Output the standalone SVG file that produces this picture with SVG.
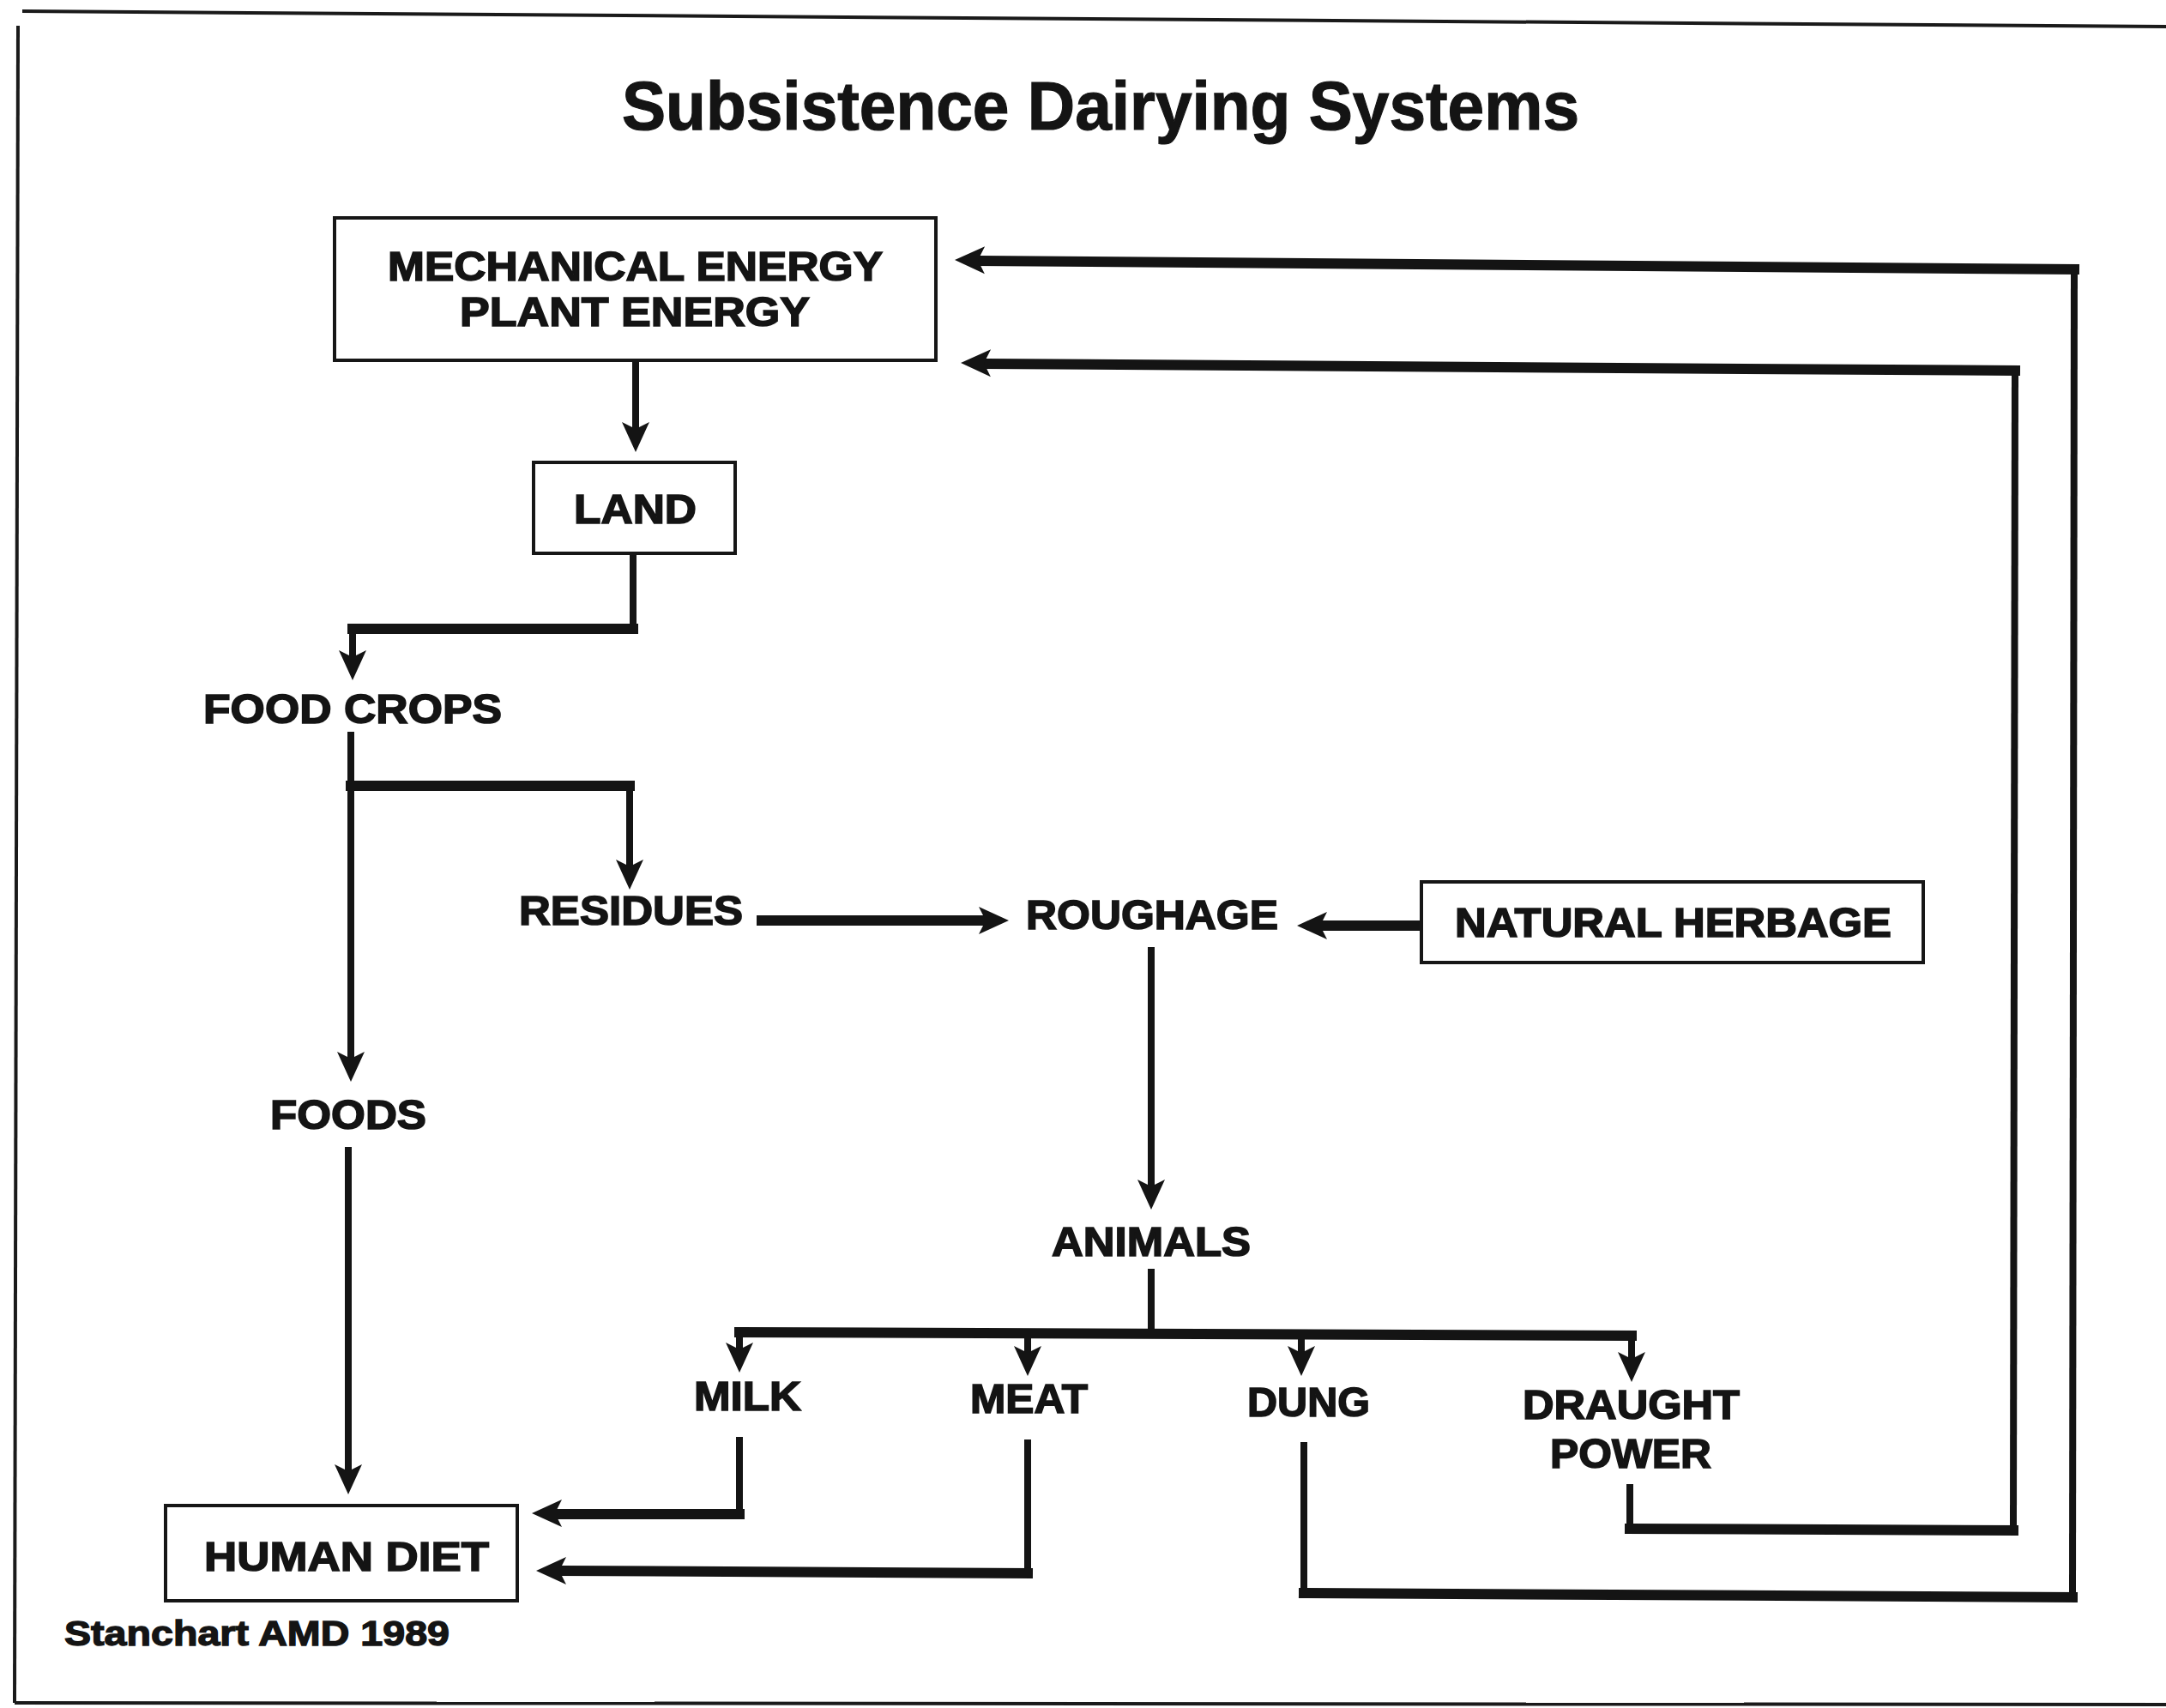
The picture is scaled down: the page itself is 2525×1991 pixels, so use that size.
<svg xmlns="http://www.w3.org/2000/svg" xmlns:xlink="http://www.w3.org/1999/xlink" width="2525" height="1991" viewBox="0 0 2525 1991">
  <style>
    .lbl { font-family: "Liberation Sans", Arial, Helvetica, sans-serif; font-weight: bold; font-size: 48px; fill: #141414; stroke: #141414; stroke-width: 1.6; }
    .title { font-family: "Liberation Sans", Arial, Helvetica, sans-serif; font-weight: bold; font-size: 80px; fill: #141414; stroke: #141414; stroke-width: 1.2; }
    .credit { font-family: "Liberation Sans", Arial, Helvetica, sans-serif; font-weight: bold; font-size: 41px; fill: #141414; stroke: #141414; stroke-width: 1.4; }
    .box { fill: #ffffff; stroke: #161616; stroke-width: 4; }
    .frame { fill: none; stroke: #1a1a1a; stroke-width: 4; }
    .v { stroke: #141414; stroke-width: 8; stroke-linecap: square; fill: none; }
    .h { stroke: #141414; stroke-width: 12; stroke-linecap: square; fill: none; }
    .head { fill: #141414; }
  </style>
  <defs>
    <!-- notched arrowhead pointing along +x, tip at the origin -->
    <path id="ah" class="head" d="M0,0 L-35,-16 L-27,0 L-35,16 Z"/>
  </defs>

  <rect width="2525" height="1991" fill="#ffffff"/>

  <!-- page frame -->
  <g id="frame">
    <line class="frame" x1="26" y1="13" x2="2525" y2="31" stroke-width="6"/>
    <line class="frame" x1="21" y1="30" x2="17" y2="1985"/>
    <line class="frame" x1="17" y1="1985" x2="2525" y2="1987"/>
  </g>

  <text class="title" x="725" y="151" textLength="1116" lengthAdjust="spacingAndGlyphs">Subsistence Dairying Systems</text>

  <!-- connectors -->
  <g id="connectors">
    <!-- energy -> land -->
    <line class="v" x1="741" y1="420" x2="741" y2="497"/>
    <use xlink:href="#ah" transform="translate(741,527) rotate(90)"/>

    <!-- land -> food crops -->
    <line class="v" x1="738" y1="645" x2="738" y2="733"/>
    <line class="h" x1="411" y1="733" x2="738" y2="733"/>
    <line class="v" x1="411" y1="733" x2="411" y2="763"/>
    <use xlink:href="#ah" transform="translate(411,793) rotate(90)"/>

    <!-- food crops -> foods -->
    <line class="v" x1="409" y1="857" x2="409" y2="1231"/>
    <use xlink:href="#ah" transform="translate(409,1261) rotate(90)"/>

    <!-- food crops -> residues -->
    <line class="h" x1="409" y1="916" x2="734" y2="916"/>
    <line class="v" x1="734" y1="916" x2="734" y2="1007"/>
    <use xlink:href="#ah" transform="translate(734,1037) rotate(90)"/>

    <!-- residues -> roughage -->
    <line class="h" x1="888" y1="1073" x2="1146" y2="1073"/>
    <use xlink:href="#ah" transform="translate(1176,1073)"/>

    <!-- natural herbage -> roughage -->
    <line class="h" x1="1542" y1="1079" x2="1655" y2="1079"/>
    <use xlink:href="#ah" transform="translate(1512,1079) rotate(180)"/>

    <!-- roughage -> animals -->
    <line class="v" x1="1342" y1="1108" x2="1342" y2="1380"/>
    <use xlink:href="#ah" transform="translate(1342,1410) rotate(90)"/>

    <!-- animals -> products -->
    <line class="v" x1="1342" y1="1483" x2="1342" y2="1555"/>
    <line class="h" x1="862" y1="1553" x2="1902" y2="1557"/>
    <line class="v" x1="862" y1="1553" x2="862" y2="1570"/>
    <use xlink:href="#ah" transform="translate(862,1600) rotate(90)"/>
    <line class="v" x1="1198" y1="1555" x2="1198" y2="1574"/>
    <use xlink:href="#ah" transform="translate(1198,1604) rotate(90)"/>
    <line class="v" x1="1517" y1="1556" x2="1517" y2="1574"/>
    <use xlink:href="#ah" transform="translate(1517,1604) rotate(90)"/>
    <line class="v" x1="1902" y1="1557" x2="1902" y2="1581"/>
    <use xlink:href="#ah" transform="translate(1902,1611) rotate(90)"/>

    <!-- milk -> human diet -->
    <line class="v" x1="862" y1="1679" x2="862" y2="1765"/>
    <line class="h" x1="650" y1="1765" x2="862" y2="1765"/>
    <use xlink:href="#ah" transform="translate(620,1764) rotate(180)"/>

    <!-- meat -> human diet -->
    <line class="v" x1="1198" y1="1682" x2="1198" y2="1834"/>
    <line class="h" x1="655" y1="1831" x2="1198" y2="1834"/>
    <use xlink:href="#ah" transform="translate(625,1831) rotate(180)"/>

    <!-- foods -> human diet -->
    <line class="v" x1="406" y1="1341" x2="406" y2="1712"/>
    <use xlink:href="#ah" transform="translate(406,1742) rotate(90)"/>

    <!-- dung -> mechanical / plant energy (outer loop) -->
    <line class="v" x1="1520" y1="1685" x2="1520" y2="1858"/>
    <line class="h" x1="1520" y1="1857" x2="2416" y2="1862"/>
    <line class="v" x1="2416" y1="1862" x2="2418" y2="314"/>
    <line class="h" x1="1143" y1="304" x2="2418" y2="314"/>
    <use xlink:href="#ah" transform="translate(1113,303) rotate(180.45)"/>

    <!-- draught power -> mechanical / plant energy (inner loop) -->
    <line class="v" x1="1900" y1="1734" x2="1900" y2="1782"/>
    <line class="h" x1="1900" y1="1782" x2="2347" y2="1784"/>
    <line class="v" x1="2347" y1="1784" x2="2349" y2="432"/>
    <line class="h" x1="1150" y1="424" x2="2349" y2="432"/>
    <use xlink:href="#ah" transform="translate(1120,423) rotate(180.4)"/>
  </g>

  <!-- nodes -->
  <g id="energy">
    <rect class="box" x="390" y="254" width="701" height="166"/>
    <text class="lbl" x="452" y="327" textLength="577" lengthAdjust="spacingAndGlyphs">MECHANICAL ENERGY</text>
    <text class="lbl" x="536" y="380" textLength="408" lengthAdjust="spacingAndGlyphs">PLANT ENERGY</text>
  </g>

  <g id="land">
    <rect class="box" x="622" y="539" width="235" height="106"/>
    <text class="lbl" x="669" y="610" textLength="143" lengthAdjust="spacingAndGlyphs">LAND</text>
  </g>

  <g id="food-crops">
    <text class="lbl" x="237" y="843" textLength="348" lengthAdjust="spacingAndGlyphs">FOOD CROPS</text>
  </g>

  <g id="residues">
    <text class="lbl" x="605" y="1078" textLength="261" lengthAdjust="spacingAndGlyphs">RESIDUES</text>
  </g>

  <g id="roughage">
    <text class="lbl" x="1196" y="1083" textLength="294" lengthAdjust="spacingAndGlyphs">ROUGHAGE</text>
  </g>

  <g id="natural-herbage">
    <rect class="box" x="1657" y="1028" width="585" height="94"/>
    <text class="lbl" x="1696" y="1092" textLength="509" lengthAdjust="spacingAndGlyphs">NATURAL HERBAGE</text>
  </g>

  <g id="foods">
    <text class="lbl" x="315" y="1316" textLength="182" lengthAdjust="spacingAndGlyphs">FOODS</text>
  </g>

  <g id="animals">
    <text class="lbl" x="1226" y="1464" textLength="232" lengthAdjust="spacingAndGlyphs">ANIMALS</text>
  </g>

  <g id="milk">
    <text class="lbl" x="809" y="1644" textLength="125" lengthAdjust="spacingAndGlyphs">MILK</text>
  </g>

  <g id="meat">
    <text class="lbl" x="1131" y="1647" textLength="137" lengthAdjust="spacingAndGlyphs">MEAT</text>
  </g>

  <g id="dung">
    <text class="lbl" x="1454" y="1651" textLength="143" lengthAdjust="spacingAndGlyphs">DUNG</text>
  </g>

  <g id="draught-power">
    <text class="lbl" x="1775" y="1654" textLength="253" lengthAdjust="spacingAndGlyphs">DRAUGHT</text>
    <text class="lbl" x="1807" y="1711" textLength="188" lengthAdjust="spacingAndGlyphs">POWER</text>
  </g>

  <g id="human-diet">
    <rect class="box" x="193" y="1755" width="410" height="111"/>
    <text class="lbl" x="238" y="1831" textLength="332" lengthAdjust="spacingAndGlyphs">HUMAN DIET</text>
  </g>

  <text class="credit" x="75" y="1918" textLength="449" lengthAdjust="spacingAndGlyphs">Stanchart AMD 1989</text>
</svg>
